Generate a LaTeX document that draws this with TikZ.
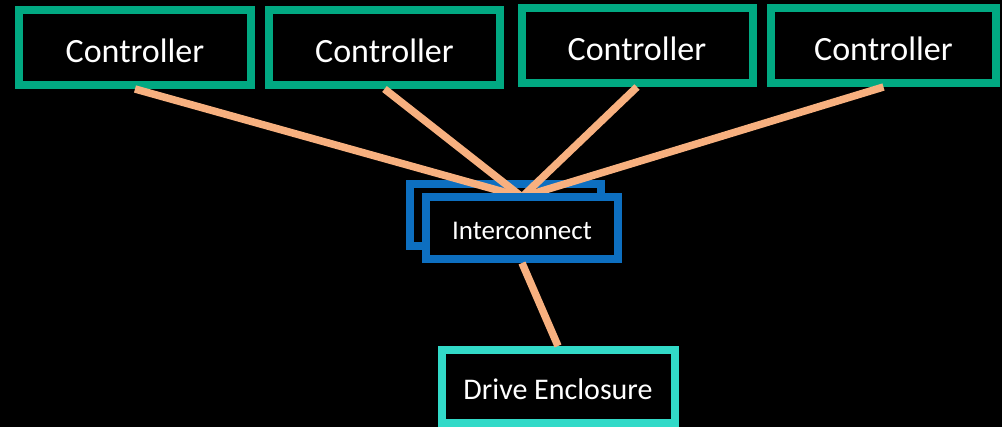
\documentclass[tikz,border=0pt]{standalone}
\usepackage{fontspec}
\setmainfont{Carlito}
\definecolor{hpegreen}{HTML}{01A982}
\definecolor{hpeteal}{HTML}{32DAC8}
\definecolor{hpeblue}{HTML}{0D6FC0}
\definecolor{linkc}{HTML}{F7B07F}
\newcommand{\lowered}[1]{\raisebox{-3pt}[\height][\depth]{#1}}
\begin{document}
\begin{tikzpicture}[x=1pt,y=-1pt,
  ctrl/.style={draw=hpegreen,line width=8pt,fill=black,text=white,inner sep=0pt,
    minimum height=75pt,font=\fontsize{34}{36}\selectfont},
  icbox/.style={draw=hpeblue,line width=8pt,fill=black,text=white,inner sep=0pt,
    minimum width=192pt,minimum height=62pt,font=\fontsize{27}{30}\selectfont},
  encl/.style={draw=hpeteal,line width=8pt,fill=black,text=white,inner sep=0pt,
    minimum width=233pt,minimum height=73pt,font=\fontsize{30}{32}\selectfont},
  link/.style={draw=linkc,line width=7.5pt}]
\fill[black] (0,0) rectangle (1002,427);
\useasboundingbox (0,0) rectangle (1002,427);
\node[ctrl,minimum width=232pt] (c1) at (135,47.5) {\lowered{Controller}};
\node[ctrl,minimum width=231pt] (c2) at (384.5,47.5) {\lowered{Controller}};
\node[ctrl,minimum width=231pt] (c3) at (637,45.5) {\lowered{Controller}};
\node[ctrl,minimum width=225pt] (c4) at (883.5,45.5) {\lowered{Controller}};
\node[icbox,minimum width=191pt] (icb) at (505.5,215) {};
\draw[link] (c1.south) -- (522,197) coordinate (top);
\draw[link] (c2.south) -- (top);
\draw[link] (c3.south) -- (top);
\draw[link] (c4.south) -- (top);
\node[icbox] (ic) at (522,228) {\lowered{Interconnect}};
\node[encl] (de) at (558,386.5) {\lowered{Drive Enclosure}};
\draw[link] (ic.south) -- (de.north);
\end{tikzpicture}
\end{document}
